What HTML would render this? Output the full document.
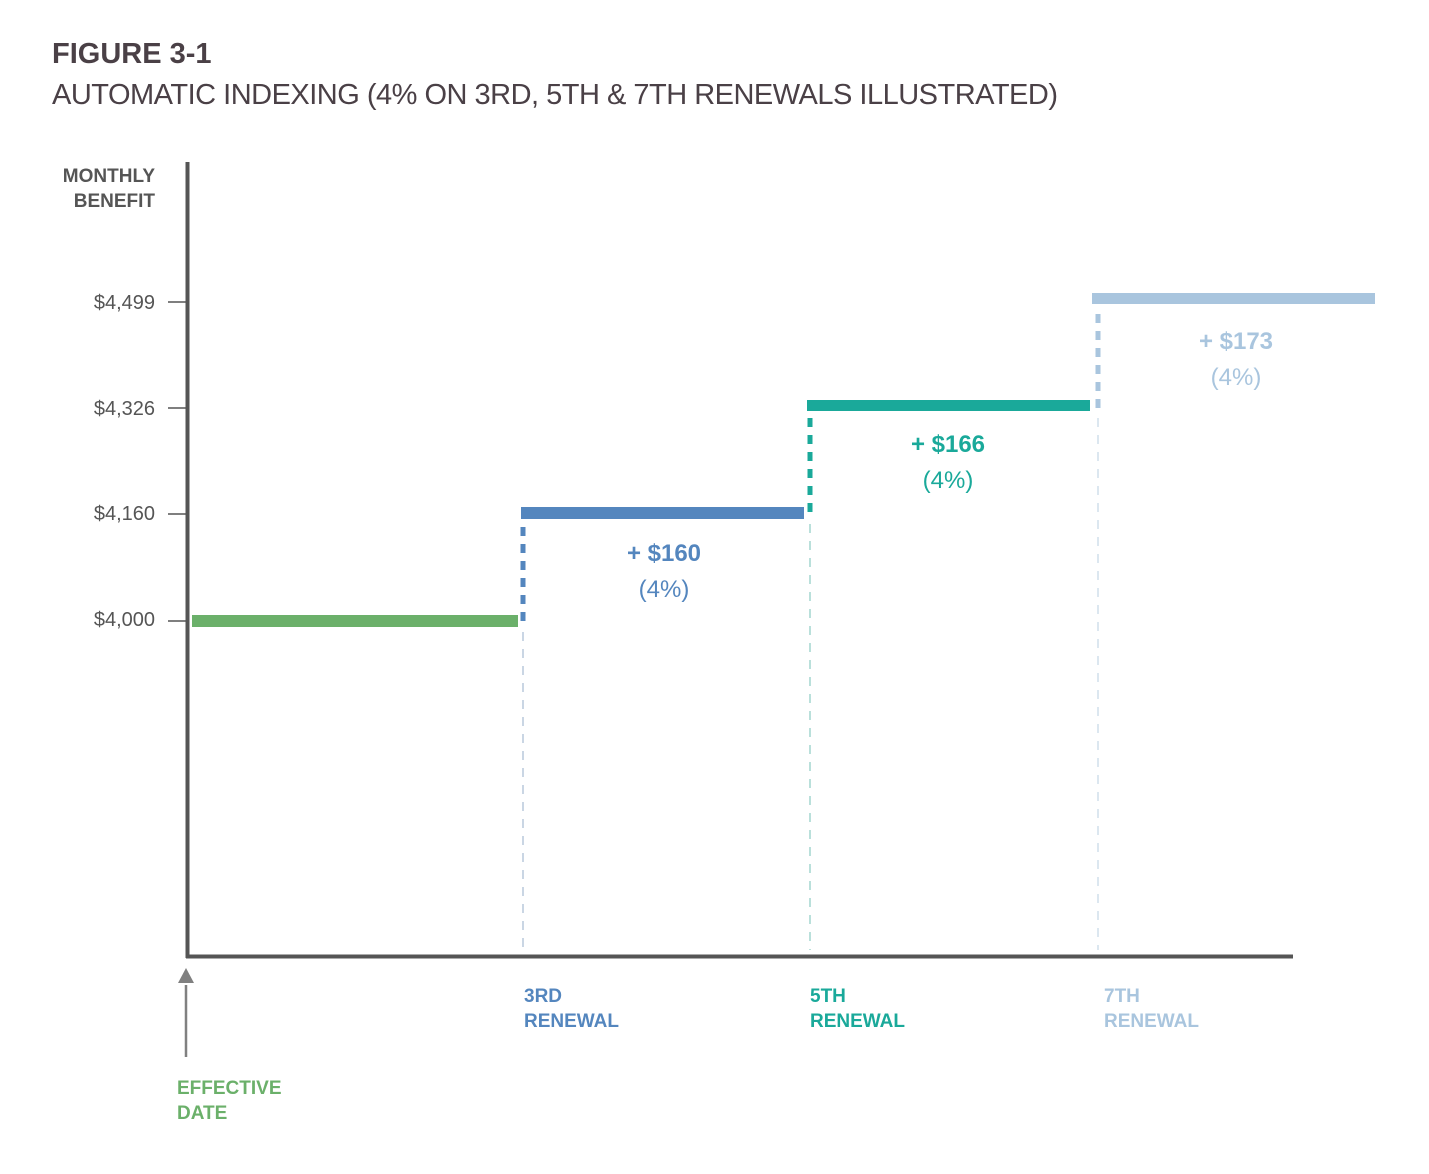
<!DOCTYPE html>
<html><head><meta charset="utf-8"><style>
body{margin:0;background:#fff;}
svg text{font-family:"Liberation Sans",sans-serif;}
</style></head><body>
<svg width="1429" height="1169" xmlns="http://www.w3.org/2000/svg">
<text x="52" y="63" font-size="29" font-weight="bold" fill="#4a4046">FIGURE 3-1</text>
<text x="52" y="104" font-size="29" fill="#4a4046" textLength="1006">AUTOMATIC INDEXING (4% ON 3RD, 5TH &amp; 7TH RENEWALS ILLUSTRATED)</text>
<g font-size="19" font-weight="bold" fill="#555" text-anchor="end">
<text x="155" y="182">MONTHLY</text><text x="155" y="207">BENEFIT</text>
<text x="155" y="309" font-weight="normal" font-size="20">$4,499</text>
<text x="155" y="415" font-weight="normal" font-size="20">$4,326</text>
<text x="155" y="520" font-weight="normal" font-size="20">$4,160</text>
<text x="155" y="626" font-weight="normal" font-size="20">$4,000</text>
</g>
<g stroke="#555" stroke-width="1.5">
<line x1="168" y1="302" x2="186" y2="302"/><line x1="168" y1="408" x2="186" y2="408"/>
<line x1="168" y1="514" x2="186" y2="514"/><line x1="168" y1="621" x2="186" y2="621"/>
</g>
<line x1="187.5" y1="162" x2="187.5" y2="958" stroke="#555" stroke-width="4"/>
<line x1="186" y1="956.5" x2="1293" y2="956.5" stroke="#555" stroke-width="4"/>
<line x1="186" y1="985" x2="186" y2="1057" stroke="#808080" stroke-width="2.5"/>
<polygon points="186,968 178,983 194,983" fill="#808080"/>
<!-- thin dashed -->
<line x1="523" y1="632" x2="523" y2="950" stroke="#b9c9dc" stroke-width="1.5" stroke-dasharray="9,8"/>
<line x1="810" y1="524" x2="810" y2="950" stroke="#a3d6cf" stroke-width="1.5" stroke-dasharray="9,8"/>
<line x1="1098" y1="418" x2="1098" y2="950" stroke="#d0dfeb" stroke-width="1.5" stroke-dasharray="9,8"/>
<!-- thick dotted -->
<line x1="523" y1="527" x2="523" y2="628" stroke="#5486be" stroke-width="5" stroke-dasharray="9,8"/>
<line x1="810" y1="418" x2="810" y2="520" stroke="#1aa99a" stroke-width="5" stroke-dasharray="9,8"/>
<line x1="1098" y1="314" x2="1098" y2="414" stroke="#a9c5de" stroke-width="5" stroke-dasharray="9,8"/>
<!-- steps -->
<rect x="192" y="615" width="326" height="12" fill="#6bb06a"/>
<rect x="521" y="507" width="283" height="12" fill="#5486be"/>
<rect x="807" y="400" width="283" height="11" fill="#1aa99a"/>
<rect x="1092" y="293" width="283" height="11" fill="#a9c5de"/>
<g font-size="24" text-anchor="middle">
<text x="664" y="561" fill="#5486be" font-weight="bold">+ $160</text>
<text x="664" y="597" fill="#5486be">(4%)</text>
<text x="948" y="452" fill="#1aa99a" font-weight="bold">+ $166</text>
<text x="948" y="488" fill="#1aa99a">(4%)</text>
<text x="1236" y="349" fill="#a9c5de" font-weight="bold">+ $173</text>
<text x="1236" y="385" fill="#a9c5de">(4%)</text>
</g>
<g font-size="19" font-weight="bold">
<text x="524" y="1002" fill="#5486be">3RD</text><text x="524" y="1027" fill="#5486be">RENEWAL</text>
<text x="810" y="1002" fill="#1aa99a">5TH</text><text x="810" y="1027" fill="#1aa99a">RENEWAL</text>
<text x="1104" y="1002" fill="#a9c5de">7TH</text><text x="1104" y="1027" fill="#a9c5de">RENEWAL</text>
<text x="177" y="1094" fill="#6bb06a">EFFECTIVE</text><text x="177" y="1119" fill="#6bb06a">DATE</text>
</g>
</svg>
</body></html>
